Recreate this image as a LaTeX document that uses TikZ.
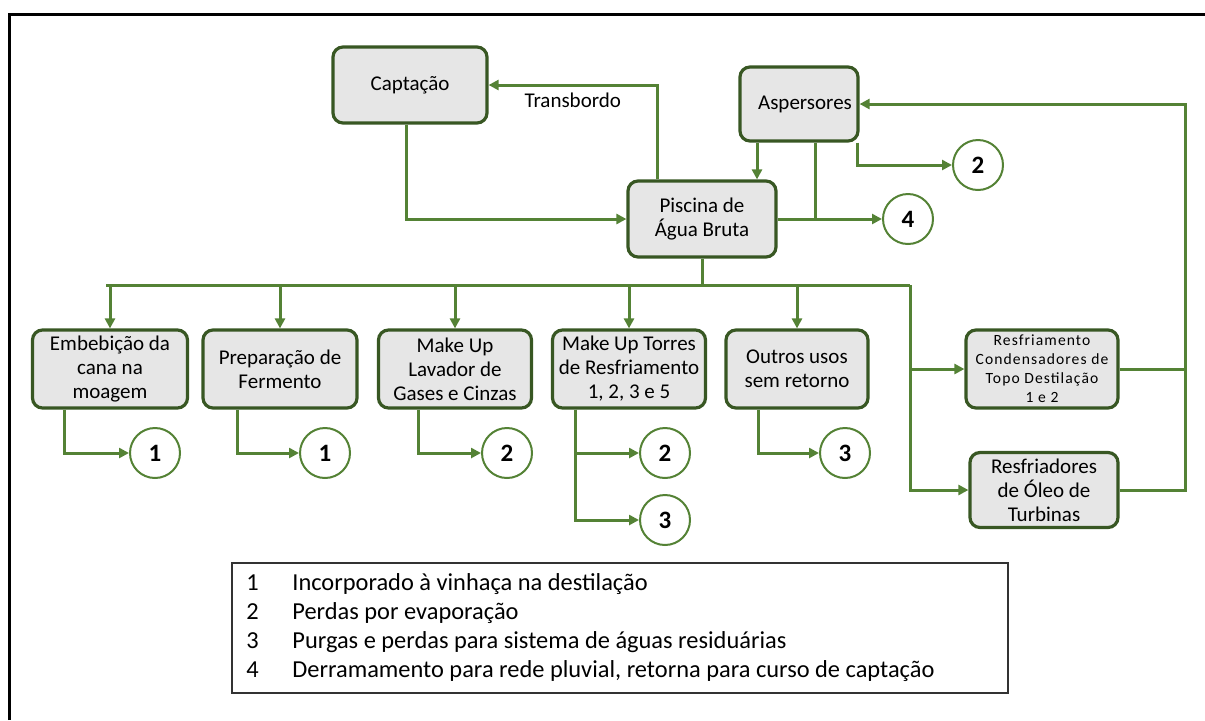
\documentclass[tikz,border=0pt]{standalone}
\usepackage{fontspec}
\setmainfont{Carlito}
\usetikzlibrary{arrows.meta}
\definecolor{linegreen}{RGB}{84,130,53}
\definecolor{boxgreen}{RGB}{56,87,35}
\definecolor{boxgray}{RGB}{230,230,230}
\begin{document}
\begin{tikzpicture}[x=0.5pt,y=-0.5pt,
        box/.style={draw=boxgreen,fill=boxgray,line width=1.6pt,rounded corners=5pt,align=center,inner sep=0pt,minimum height=39pt,font=\fontsize{10.5}{12}\selectfont},
        num/.style={draw=linegreen,fill=white,circle,line width=1pt,inner sep=0pt,minimum size=25pt,font=\fontsize{12.5}{12}\selectfont\bfseries},
        link/.style={draw=linegreen,line width=1.5pt},
        flow/.style={link,-{Triangle[length=5pt,width=5pt]}}]
        \useasboundingbox (0,0) rectangle (1205,720);
        \draw[line width=1.5pt] (9,720) -- (9,14) -- (1205,14);
        \node[box,minimum width=77pt,minimum height=38pt] (C) at (410,85) {Captação};
        \node[box,minimum width=59pt,minimum height=37pt] (A) at (799,104) {\hspace{6pt}Aspersores};
        \node[box,minimum width=74pt,minimum height=38pt] (P) at (702,219) {Piscina de\\Água Bruta};
        \foreach \x/\w/\t [count=\i] in {110/77.5pt/{Embebição da\\cana na\\moagem},280/77pt/{Preparação de\\Fermento},455/76.5pt/{Make Up\\Lavador de\\Gases e Cinzas},629/76.5pt/{Make Up Torres\\de Resfriamento\\1, 2, 3 e 5},797/71pt/{Outros usos\\sem retorno}}{%
            \node[box,minimum width=\w] (N-\i) at (\x,369) {\t};
        }
        \node[box,minimum width=76pt,font=\fontsize{7.8}{9.5}\selectfont\addfontfeature{LetterSpace=7}] (R-1) at (1042,369) {Resfriamento\\Condensadores de\\Topo Destilação\\1 e 2};
        \node[box,minimum width=74pt,minimum height=37.5pt] (R-2) at (1044,490) {Resfriadores\\de Óleo de\\Turbinas};
        \foreach \x/\y/\t [count=\i] in {155/453/1,325/453/1,507/453/2,665/453/2,665/520/3,845/453/3,978/165/2,908/219/4}{%
            \node[num] (O-\i) at (\x,\y) {\t};
        }
        \coordinate (bus) at (702,285);
        \coordinate (busR) at (910,285);
        \coordinate (ret) at (1185,104);
        \draw[flow] ([xshift=-2pt]C.south) |- (P);
        \draw[flow] ([xshift=-22.5pt]P.north) |- (C) node[pos=0.75,below,font=\fontsize{10.5}{12}\selectfont] (E-1) {Transbordo};
        \draw[flow] ([xshift=-21pt]A.south) -- ([xshift=-21pt]A.south |- P.north);
        \draw[link] ([xshift=8pt]A.south) -- ([xshift=8pt]A.south |- P.east);
        \draw[flow] ([xshift=29pt]A.south) |- (O-7);
        \draw[flow] (P) -- (O-8);
        \draw[link] (P.south) -- (bus);
        \draw[link] ([xshift=-2pt]N-1.north |- bus) -- (busR);
        \foreach \i in {1,...,5}{%
            \draw[flow] (N-\i.north |- bus) -- (N-\i.north);
        }
        \foreach \s/\d/\o in {1/17pt/1,2/18pt/2,3/21pt/3,4/12.5pt/4,4/12.5pt/5,5/17pt/6}{%
            \draw[flow] ([xshift=\d]N-\s.south west) |- (O-\o);
        }
        \draw[flow] (busR) |- (R-1);
        \draw[flow] (busR) |- (R-2);
        \draw[link] (R-1.east) -- (R-1.east -| ret);
        \draw[flow] (R-2.east) -| (ret) -- (A.east);
        \node[draw=black!80,line width=0.6pt,minimum width=388pt,minimum height=65pt,inner sep=0pt] (L) at (620,628) {};
        \foreach \t [count=\i] in {Incorporado à vinhaça na destilação,Perdas por evaporação,Purgas e perdas para sistema de águas residuárias,{Derramamento para rede pluvial, retorna para curso de captação}}{%
            \node[anchor=base west,inner sep=0pt,font=\fontsize{12.2}{14}\selectfont] (K-\i) at (246,{561+29*\i}) {\i};
            \node[anchor=base west,inner sep=0pt,font=\fontsize{12.2}{14}\selectfont] (T-\i) at (292,{561+29*\i}) {\t};
        }
    \end{tikzpicture}
\end{document}
